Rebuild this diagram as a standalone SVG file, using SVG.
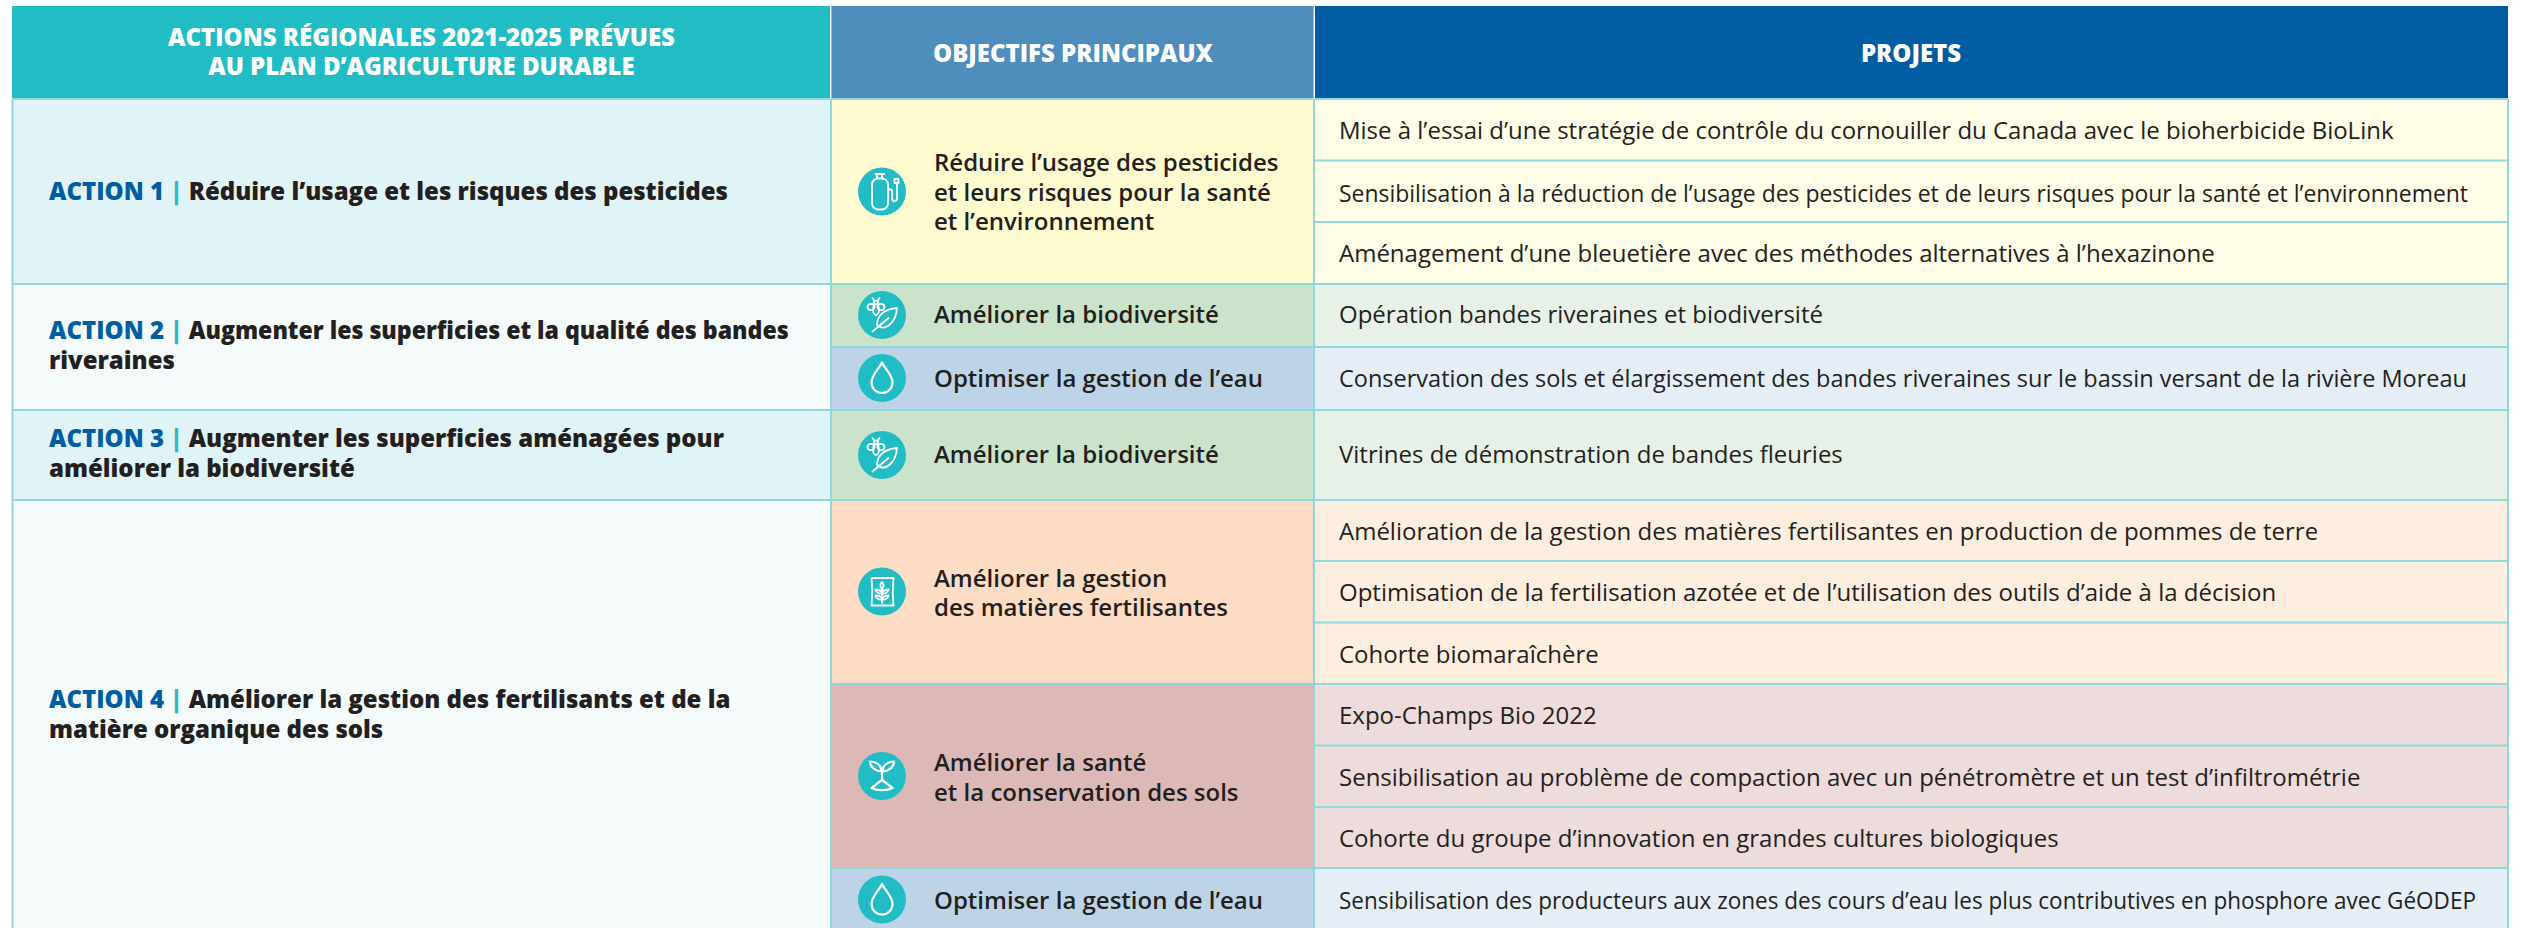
<svg xmlns="http://www.w3.org/2000/svg" width="2521" height="928" viewBox="0 0 2521 928">
<defs>
<style>
text{font-family:"Open Sans","Liberation Sans",sans-serif;fill:#231f20}
.h{font-weight:800;font-size:24px;fill:#fff;text-anchor:middle}
.a{font-weight:800;font-size:24px}
.k{fill:#005da2}.s{fill:#22bdc4;font-weight:800}
.o{font-weight:600;font-size:24px}
.p{font-weight:400;font-size:24px}
.ln{fill:none;stroke:#8fd8dc;stroke-width:2}
.ic{fill:none;stroke:#fff;stroke-width:1.800;stroke-linecap:round;stroke-linejoin:round}
.th{stroke-width:2.200}
.c{fill:#22bdc4}
</style>
<g id="drop"><circle class="c" r="24"/><path class="ic th" d="M0-15.500C-3-9-10.500-3-10.500 4.500A10.500 10.500 0 0 0 10.500 4.500C10.500-3 3-9 0-15.500Z"/></g>
<g id="bio"><circle class="c" r="24"/><g class="ic"><path d="M15-7C3-6-5 0-5 10 3 17 14 8 15-7Z"/><path d="M-9.500 16.500 6.500 3"/><ellipse cx="-6" cy="-5.500" rx="3" ry="5.500"/><ellipse cx="-11" cy="-8" rx="3.500" ry="3.200"/><ellipse cx="-1" cy="-8" rx="3.500" ry="3.200"/><circle cx="-6" cy="-12.500" r="2"/><path d="M-7.500-14-9.500-17M-4.500-14-2.500-17"/></g></g>
</defs>

<g id="backgrounds">
<rect x="12" y="6" width="818" height="93" fill="#22bdc4"/>
<rect x="831" y="6" width="483" height="93" fill="#4f8dbc"/>
<rect x="1315" y="6" width="1193" height="93" fill="#005da2"/>
<rect x="12" y="99" width="819" height="185" fill="#e0f3f6"/>
<rect x="12" y="284" width="819" height="126" fill="#f5fbfb"/>
<rect x="12" y="410" width="819" height="90" fill="#e0f3f6"/>
<rect x="12" y="500" width="819" height="428" fill="#f5fbfb"/>
<rect x="831" y="99" width="483" height="185" fill="#fffbd0"/>
<rect x="1314" y="99" width="1194" height="185" fill="#fffce8"/>
<rect x="831" y="284" width="483" height="63" fill="#cbe3ca"/>
<rect x="1314" y="284" width="1194" height="63" fill="#e7f1e7"/>
<rect x="831" y="347" width="483" height="63" fill="#bdd4e8"/>
<rect x="1314" y="347" width="1194" height="63" fill="#e5edf6"/>
<rect x="831" y="410" width="483" height="90" fill="#cbe3ca"/>
<rect x="1314" y="410" width="1194" height="90" fill="#e7f1e7"/>
<rect x="831" y="500" width="483" height="184" fill="#fddcc5"/>
<rect x="1314" y="500" width="1194" height="184" fill="#feeedf"/>
<rect x="831" y="684" width="483" height="184" fill="#dcb9b7"/>
<rect x="1314" y="684" width="1194" height="184" fill="#eedbdb"/>
<rect x="831" y="868" width="483" height="60" fill="#bdd4e8"/>
<rect x="1314" y="868" width="1194" height="60" fill="#e5edf6"/>
</g>

<g id="connectors">
<path class="ln" d="M12 99H2508M12 284H2508M831 347H2508M12 410H2508M12 500H2508M831 684H2508M831 868H2508M1314 160.500H2508M1314 222H2508M1314 561H2508M1314 622.500H2508M1314 745.500H2508M1314 807H2508"/>
<path class="ln" d="M12.500 99V928M831 99V928M1314 99V928M2508 99V928"/>
<path d="M831 6V99M1314 6V99" fill="none" stroke="#fff" stroke-opacity=".55" stroke-width="1.500"/>
</g>

<g id="header-actions"><text class="h" x="421.500" y="46">ACTIONS RÉGIONALES 2021-2025 PRÉVUES</text><text class="h" x="421.500" y="75">AU PLAN D’AGRICULTURE DURABLE</text></g>
<g id="header-objectifs"><text class="h" x="1073" y="61.500">OBJECTIFS PRINCIPAUX</text></g>
<g id="header-projets"><text class="h" x="1911" y="61.500">PROJETS</text></g>

<g id="action-1"><text class="a" x="49" y="200"><tspan class="k">ACTION 1</tspan><tspan class="s"> | </tspan>Réduire l’usage et les risques des pesticides</text></g>
<g id="action-2"><text class="a" x="49" y="339"><tspan class="k">ACTION 2</tspan><tspan class="s"> | </tspan><tspan textLength="600" lengthAdjust="spacingAndGlyphs">Augmenter les superficies et la qualité des bandes</tspan></text><text class="a" x="49" y="369">riveraines</text></g>
<g id="action-3"><text class="a" x="49" y="447"><tspan class="k">ACTION 3</tspan><tspan class="s"> | </tspan>Augmenter les superficies aménagées pour</text><text class="a" x="49" y="477">améliorer la biodiversité</text></g>
<g id="action-4"><text class="a" x="49" y="708"><tspan class="k">ACTION 4</tspan><tspan class="s"> | </tspan>Améliorer la gestion des fertilisants et de la</text><text class="a" x="49" y="738">matière organique des sols</text></g>

<g id="objectif-pesticides"><g transform="translate(882 191.500)"><circle class="c" r="24"/><g class="ic"><rect x="-10" y="-13" width="16" height="31" rx="6"/><path d="M-6.500-17.500H2.500M-5-17.500V-13M0-17.500V-13M6-2H8.500Q10-2 10-1V7A2.500 2.500 0 0 0 15 7V-9"/><rect x="12.500" y="-12.500" width="4" height="4"/></g></g><text class="o" x="934" y="171">Réduire l’usage des pesticides</text><text class="o" x="934" y="200.500">et leurs risques pour la santé</text><text class="o" x="934" y="230">et l’environnement</text></g>
<g id="objectif-bio-1"><use href="#bio" x="882" y="315"/><text class="o" x="934" y="323">Améliorer la biodiversité</text></g>
<g id="objectif-eau-1"><use href="#drop" x="882" y="378"/><text class="o" x="934" y="387">Optimiser la gestion de l’eau</text></g>
<g id="objectif-bio-2"><use href="#bio" x="882" y="455"/><text class="o" x="934" y="463">Améliorer la biodiversité</text></g>
<g id="objectif-fertilisantes"><g transform="translate(882 591.500)"><circle class="c" r="24"/><g class="ic"><path d="M-10.500-13.500H11.500Q10 0 11.500 14H-10.500Q-9 0-10.500-13.500Z"/><path d="M0-2V11M0-9.500C-2-7-2-4.500 0-2.500 2-4.500 2-7 0-9.500ZM0 1C-2-2-5-2-6.500-2-6 1-3 2.500 0 2ZM0 1C2-2 5-2 6.500-2 6 1 3 2.500 0 2ZM0 7C-2 4-5 4-6.500 4-6 7-3 8.500 0 8ZM0 7C2 4 5 4 6.500 4 6 7 3 8.500 0 8Z"/></g></g><text class="o" x="934" y="587">Améliorer la gestion</text><text class="o" x="934" y="616">des matières fertilisantes</text></g>
<g id="objectif-sols"><g transform="translate(882 776)"><circle class="c" r="24"/><path class="ic th" d="M0-5C-1-11-6-14.500-12-14.500-12-9-6-4 0-5ZM0-5C1-11 6-14.500 12-14.500 12-9 6-4 0-5ZM0-5V4M-10.500 12C-6 9-3 6 0 4 3 6 6 9 10.500 12 5 15-5 15-10.500 12Z"/></g><text class="o" x="934" y="771">Améliorer la santé</text><text class="o" x="934" y="801">et la conservation des sols</text></g>
<g id="objectif-eau-2"><use href="#drop" x="882" y="899.500"/><text class="o" x="934" y="909">Optimiser la gestion de l’eau</text></g>

<g id="projets">
<text class="p" x="1339" y="138.500" textLength="1054.500" lengthAdjust="spacingAndGlyphs">Mise à l’essai d’une stratégie de contrôle du cornouiller du Canada avec le bioherbicide BioLink</text>
<text class="p" x="1339" y="201.500" textLength="1129" lengthAdjust="spacingAndGlyphs">Sensibilisation à la réduction de l’usage des pesticides et de leurs risques pour la santé et l’environnement</text>
<text class="p" x="1339" y="262">Aménagement d’une bleuetière avec des méthodes alternatives à l’hexazinone</text>
<text class="p" x="1339" y="323">Opération bandes riveraines et biodiversité</text>
<text class="p" x="1339" y="387" textLength="1128" lengthAdjust="spacingAndGlyphs">Conservation des sols et élargissement des bandes riveraines sur le bassin versant de la rivière Moreau</text>
<text class="p" x="1339" y="463">Vitrines de démonstration de bandes fleuries</text>
<text class="p" x="1339" y="540">Amélioration de la gestion des matières fertilisantes en production de pommes de terre</text>
<text class="p" x="1339" y="600.500">Optimisation de la fertilisation azotée et de l’utilisation des outils d’aide à la décision</text>
<text class="p" x="1339" y="663">Cohorte biomaraîchère</text>
<text class="p" x="1339" y="724">Expo-Champs Bio 2022</text>
<text class="p" x="1339" y="786">Sensibilisation au problème de compaction avec un pénétromètre et un test d’infiltrométrie</text>
<text class="p" x="1339" y="847">Cohorte du groupe d’innovation en grandes cultures biologiques</text>
<text class="p" x="1339" y="909" textLength="1137" lengthAdjust="spacingAndGlyphs">Sensibilisation des producteurs aux zones des cours d’eau les plus contributives en phosphore avec GéODEP</text>
</g>
</svg>
